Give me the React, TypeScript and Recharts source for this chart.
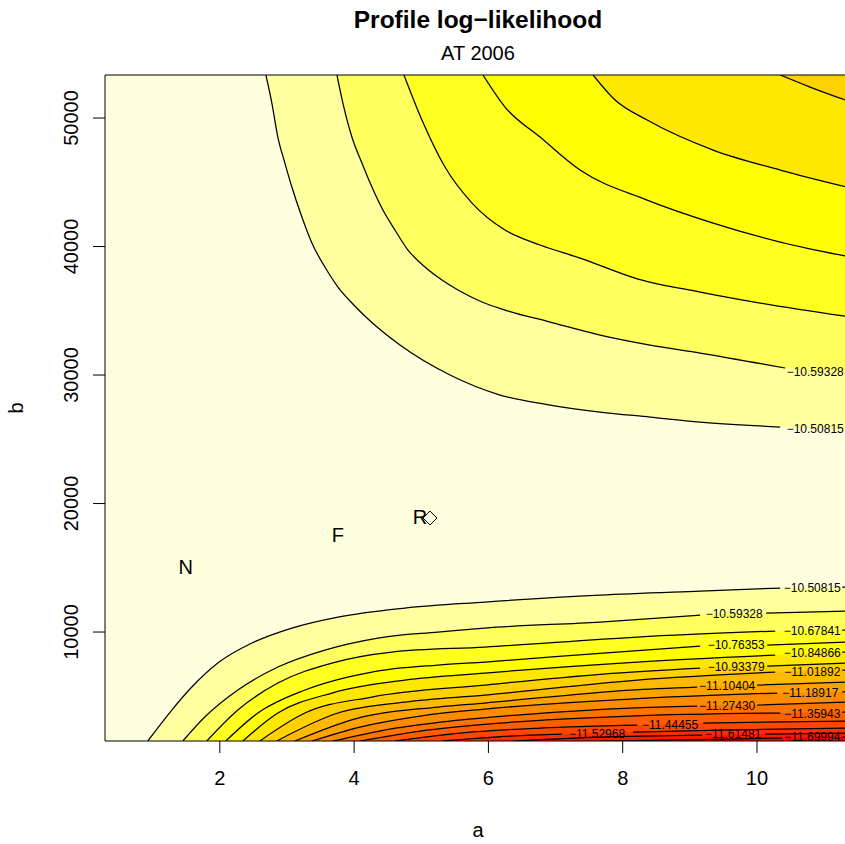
import { ComposedChart, Area, Line, Scatter, XAxis, YAxis, CartesianGrid, ReferenceLine } from 'recharts';

const FONT = '"Liberation Sans", Arial, Helvetica, sans-serif';

const A_RANGE: [number, number] = [0.29, 11.4];
const B_RANGE: [number, number] = [1520, 53350];
const A_TICKS = [2, 4, 6, 8, 10];
const B_TICKS = [10000, 20000, 30000, 40000, 50000];

// contour levels, highest first
const LEVELS = [
  '−10.50815', '−10.59328', '−10.67841', '−10.76353', '−10.84866',
  '−10.93379', '−11.01892', '−11.10404', '−11.18917', '−11.27430',
  '−11.35943', '−11.44455', '−11.52968', '−11.61481', '−11.69994',
];

// heat.colors(16), highest band first
const BANDS = [
  '#FFFFDF', '#FFFF9F', '#FFFF60', '#FFFF20', '#FFFF00', '#FFE800', '#FFD100', '#FFB900',
  '#FFA200', '#FF8B00', '#FF7400', '#FF5D00', '#FF4600', '#FF2E00', '#FF1700', '#FF0000',
];

type Pt = [number, number | null];

// contours that leave through the top edge (upper right); null = gap under a label
const UPPER: Pt[][] = [
  [[2.686, 53350], [2.775, 51167], [2.864, 48521], [2.969, 46497], [3.073, 44630], [3.222, 42295], [3.371, 40272], [3.565, 38404], [3.759, 36848], [3.967, 35603], [4.191, 34435], [4.683, 32334], [5.428, 30000], [6.173, 28443], [6.918, 27665], [7.663, 27120], [8.408, 26731], [9.153, 26342], [10.346, 25953], [10.85, null], [11.31, 25720], [11.4, 25700]],
  [[3.744, 53350], [3.833, 51167], [3.967, 48521], [4.116, 46497], [4.265, 44630], [4.429, 42840], [4.608, 41284], [4.802, 39727], [5.055, 38404], [5.308, 37393], [5.547, 36614], [5.905, 35681], [6.247, 35058], [6.918, 34124], [7.663, 33113], [8.408, 32334], [9.153, 31712], [10.42, 30545], [10.85, null], [11.314, 30311], [11.4, 30300]],
  [[4.742, 53350], [5.01, 49844], [5.353, 46186], [5.756, 43385], [6.247, 41284], [6.769, 40117], [7.365, 39105], [8.229, 37471], [9.153, 36459], [10.048, 35603], [11.4, 34514]],
  [[5.919, 53350], [6.247, 50856], [6.769, 48521], [7.365, 45953], [8.364, 43618], [9.347, 41828], [10.346, 40350], [11.4, 39183]],
  [[7.559, 53350], [7.887, 51400], [8.364, 49844], [9.347, 47509], [10.346, 45953], [11.4, 44551]],
  [[10.346, 53350], [10.79, 52411], [11.4, 51244]],
];

// contours that leave through the bottom edge
const LOWER: Pt[][] = [
  [[0.927, 1520], [1.285, 3930], [1.583, 5720], [1.97, 7588], [2.477, 9144], [3.073, 10311], [3.759, 11167], [4.757, 11868], [5.949, 12335], [7.663, 12879], [9.153, 13191], [10.346, 13424], [10.8, null], [11.27, 13502], [11.4, 13510]],
  [[1.449, 1520], [1.776, 3385], [2.268, 5486], [2.864, 7276], [3.565, 8599], [4.355, 9533], [5.249, 10000], [5.949, 10311], [7.663, 10778], [9.153, 11323], [9.6, null], [10.137, 11479], [11.4, 11634]],
  [[1.806, 1520], [2.268, 3930], [2.864, 6031], [3.669, 7588], [4.563, 8444], [5.949, 8833], [8.215, 9611], [10.271, 10078], [10.8, null], [11.27, 10156], [11.4, 10160]],
  [[2.089, 1520], [2.566, 3697], [3.267, 5486], [4.265, 6887], [5.249, 7432], [5.949, 7665], [7.708, 8366], [9.153, 8911], [9.6, null], [10.152, 8988], [11.4, 9222]],
  [[2.343, 1520], [2.864, 3697], [3.669, 5253], [4.757, 6265], [5.949, 6809], [8.215, 7665], [10.271, 8210], [10.8, null], [11.27, 8444], [11.4, 8450]],
  [[2.596, 1520], [3.267, 3697], [4.265, 4942], [5.949, 5876], [7.708, 6732], [9.153, 7198], [9.6, null], [10.152, 7354], [11.4, 7588]],
  [[2.849, 1520], [3.759, 3697], [4.757, 4553], [5.949, 5097], [8.215, 6265], [10.271, 6887], [10.8, null], [11.27, 7043], [11.4, 7050]],
  [[3.118, 1520], [4.057, 3308], [5.249, 4164], [5.949, 4475], [8.11, 5486], [9.109, 5720], [9.5, null], [10.003, 5875], [11.4, 6109]],
  [[3.371, 1520], [4.086, 2607], [4.981, 3463], [5.949, 4008], [8.11, 4786], [10.301, 5253], [10.8, null], [11.27, 5331], [11.4, 5409]],
  [[3.684, 1520], [4.533, 2451], [5.428, 3074], [6.62, 3619], [8.11, 4086], [9.109, 4241], [9.5, null], [10.003, 4319], [11.4, 4553]],
  [[4.086, 1520], [4.981, 2296], [6.173, 2918], [8.11, 3463], [10.346, 3697], [10.8, null], [11.27, 3774], [11.4, 3780]],
  [[4.608, 1520], [5.577, 2140], [6.769, 2529], [8.215, 2763], [8.7, null], [9.198, 2918], [11.4, 3074]],
  [[5.323, 1520], [6.322, 1907], [7.097, 2062], [7.6, null], [8.155, 2218], [9.452, 2374], [11.4, 2529]],
  [[6.367, 1520], [7.663, 1829], [9.183, 1985], [9.6, null], [10.122, 2062], [11.4, 2140]],
  [[7.663, 1520], [9.153, 1635], [10.375, 1751], [10.8, null], [11.27, 1829], [11.4, 1835]],
];

// label centres [a, b] per level
const UPPER_LABELS: [number, number][] = [[10.867, 25797], [10.867, 30233]];
const LOWER_LABELS: [number, number][] = [
  [10.823, 13424], [9.66, 11401], [10.823, 10078], [9.69, 8988], [10.823, 8366],
  [9.69, 7276], [10.823, 6887], [9.556, 5798], [10.793, 5253], [9.556, 4241],
  [10.823, 3619], [8.706, 2763], [7.618, 2062], [9.645, 2062], [10.823, 1829],
];

const MARKS = [
  { a: 1.493, b: 15058, text: 'N' },
  { a: 3.759, b: 17549, text: 'F' },
  { a: 4.981, b: 18949, text: 'R' },
];
const MLE = [{ a: 5.13, b: 18871 }];

const rows = (pts: Pt[]) => pts.map(([a, b]) => ({ a, b }));
const solid = (pts: Pt[]) => rows(pts).filter(r => r.b !== null);

const labelRows = [
  ...UPPER_LABELS.map(([a, b], i) => ({ a, b, text: LEVELS[i] })),
  ...LOWER_LABELS.map(([a, b], i) => ({ a, b, text: LEVELS[i] })),
];

const XTick = ({ x, y, payload }: any) => (
  <text x={x} y={y + 30} textAnchor="middle" fontSize={20} fontFamily={FONT} fill="#000">
    {payload.value}
  </text>
);

const YTick = ({ x, y, payload }: any) => (
  <text
    x={x - 13}
    y={y}
    transform={`rotate(-90 ${x - 13} ${y})`}
    textAnchor="middle"
    fontSize={20}
    fontFamily={FONT}
    fill="#000"
  >
    {payload.value}
  </text>
);

const LevelLabel = ({ cx, cy, payload }: any) => (
  <text x={cx} y={cy} textAnchor="middle" dominantBaseline="central" fontSize={12} fontFamily={FONT} fill="#000">
    {payload.text}
  </text>
);

const MarkLabel = ({ cx, cy, payload }: any) => (
  <text x={cx} y={cy} textAnchor="middle" dominantBaseline="central" fontSize={20} fontFamily={FONT} fill="#000">
    {payload.text}
  </text>
);

const Diamond = ({ cx, cy }: any) => (
  <polygon
    points={`${cx},${cy - 7} ${cx + 7},${cy} ${cx},${cy + 7} ${cx - 7},${cy}`}
    fill="none"
    stroke="#000"
    strokeWidth={1}
  />
);

export default function App() {
  return (
    <div style={{ position: 'absolute', left: 0, top: 0, width: 845, height: 844, overflow: 'hidden', background: '#fff' }}>
      <ComposedChart width={860} height={844} margin={{ top: 75, right: 9, bottom: 43, left: 0 }}>
        <CartesianGrid fill={BANDS[0]} horizontal={false} vertical={false} stroke="none" />
        <XAxis
          type="number"
          dataKey="a"
          domain={A_RANGE}
          allowDataOverflow
          ticks={A_TICKS}
          tick={<XTick />}
          tickSize={12}
          height={60}
          stroke="#000"
        />
        <YAxis
          type="number"
          dataKey="b"
          domain={B_RANGE}
          allowDataOverflow
          ticks={B_TICKS}
          tick={<YTick />}
          tickSize={12}
          width={105}
          stroke="#000"
        />
        {UPPER.map((pts, i) => (
          <Area
            key={`ua${i}`}
            data={solid(pts)}
            dataKey="b"
            type="monotone"
            baseValue={B_RANGE[1]}
            stroke="none"
            fill={BANDS[i + 1]}
            fillOpacity={1}
            isAnimationActive={false}
          />
        ))}
        {LOWER.map((pts, i) => (
          <Area
            key={`la${i}`}
            data={solid(pts)}
            dataKey="b"
            type="monotone"
            baseValue={B_RANGE[0]}
            stroke="none"
            fill={BANDS[i + 1]}
            fillOpacity={1}
            isAnimationActive={false}
          />
        ))}
        {[...UPPER, ...LOWER].map((pts, i) => (
          <Line
            key={`ln${i}`}
            data={rows(pts)}
            dataKey="b"
            type="monotone"
            stroke="#000"
            strokeWidth={1.25}
            dot={false}
            activeDot={false}
            isAnimationActive={false}
          />
        ))}
        <ReferenceLine y={B_RANGE[1]} stroke="#000" />
        <ReferenceLine x={A_RANGE[1]} stroke="#000" />
        <Scatter data={labelRows} shape={<LevelLabel />} isAnimationActive={false} />
        <Scatter data={MARKS} shape={<MarkLabel />} isAnimationActive={false} />
        <Scatter data={MLE} shape={<Diamond />} isAnimationActive={false} />
      </ComposedChart>
      <svg width={845} height={844} style={{ position: 'absolute', left: 0, top: 0, pointerEvents: 'none' }} fontFamily={FONT}>
        <text x={478} y={28} textAnchor="middle" fontSize={24.5} fontWeight="bold" fill="#000">
          Profile log−likelihood
        </text>
        <text x={478} y={60} textAnchor="middle" fontSize={20} fill="#000">
          AT 2006
        </text>
        <text x={478} y={837} textAnchor="middle" fontSize={20} fill="#000">
          a
        </text>
        <text x={23} y={408} textAnchor="middle" fontSize={20} fill="#000" transform="rotate(-90 23 408)">
          b
        </text>
      </svg>
    </div>
  );
}
